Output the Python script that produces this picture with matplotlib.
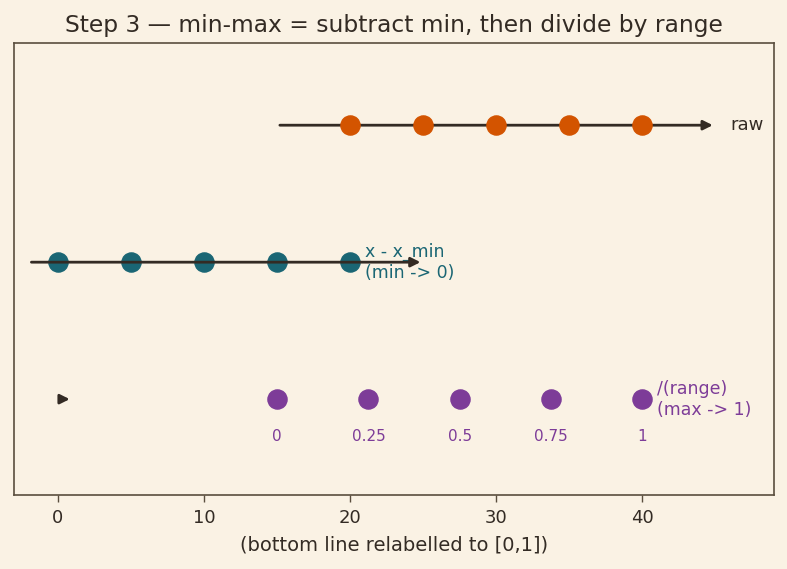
import matplotlib
matplotlib.use('Agg')
import matplotlib.pyplot as plt

# data
raw_vals = [20, 25, 30, 35, 40]
shifted_vals = [0, 5, 10, 15, 20]
scaled_vals = [0, 0.25, 0.5, 0.75, 1]
scaled_labels = ['0', '0.25', '0.5', '0.75', '1']
row_y = {'raw': 2, 'shifted': 1, 'scaled': 0}

bg = '#faf2e4'
ink = '#332b24'
c_raw = '#d35400'
c_shift = '#1a6674'
c_scale = '#7d3c98'

fig = plt.figure(figsize=(7.87, 5.69), dpi=100)
fig.patch.set_facecolor(bg)
ax = fig.add_axes([0.0178, 0.130, 0.9657, 0.7944])
ax.set_facecolor(bg)

arrow_kw = dict(arrowstyle='-|>', color=ink, lw=2, mutation_scale=14)

# raw line
ax.annotate('', xy=(45, row_y['raw']), xytext=(15, row_y['raw']), arrowprops=arrow_kw)
ax.scatter(raw_vals, [row_y['raw']] * len(raw_vals), s=190, color=c_raw, zorder=3)
ax.text(46.0, row_y['raw'], 'raw', color=ink, fontsize=13, va='center', ha='left')

# shifted line
ax.scatter(shifted_vals, [row_y['shifted']] * len(shifted_vals), s=190, color=c_shift, zorder=3)
ax.text(21, row_y['shifted'], 'x - x_min\n(min -> 0)', color=c_shift, fontsize=12.5,
        va='center', ha='left')
ax.annotate('', xy=(25, row_y['shifted']), xytext=(-2, row_y['shifted']), arrowprops=arrow_kw)

# scaled line (drawn in [0,1] data units, so it is tiny)
ax.annotate('', xy=(1, row_y['scaled']), xytext=(0, row_y['scaled']), arrowprops=arrow_kw)
pos = [15 + 25 * v for v in scaled_vals]
ax.scatter(pos, [row_y['scaled']] * len(pos), s=190, color=c_scale, zorder=3)
for p, lab in zip(pos, scaled_labels):
    ax.text(p, row_y['scaled'] - 0.27, lab, color=c_scale, fontsize=11, ha='center', va='center')
ax.text(41, row_y['scaled'], '/(range)\n(max -> 1)', color=c_scale, fontsize=12.5,
        va='center', ha='left')

ax.set_xlim(-3, 49)
ax.set_ylim(-0.7, 2.6)
ax.set_yticks([])
ax.set_xticks([0, 10, 20, 30, 40])
ax.tick_params(axis='x', colors='#5a4e3e', labelcolor=ink, labelsize=13, length=5, width=1, pad=5)
for sp in ax.spines.values():
    sp.set_color('#5a4e3e')
    sp.set_linewidth(1.2)

ax.set_title('Step 3 \u2014 min-max = subtract min, then divide by range', fontsize=16.8, color=ink, pad=8)
ax.set_xlabel('(bottom line relabelled to [0,1])', fontsize=14, color=ink, labelpad=6)

fig.savefig('out.png', dpi=100, facecolor=bg)
